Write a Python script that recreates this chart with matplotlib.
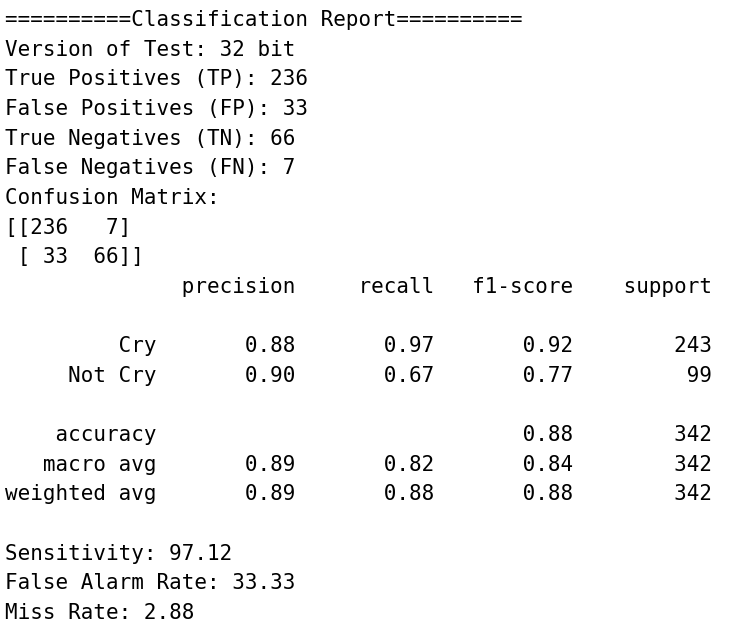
import matplotlib
matplotlib.use("Agg")
import matplotlib.pyplot as plt

version = "32 bit"
tp, fp, tn, fn = 236, 33, 66, 7
class_names = ["Cry", "Not Cry"]
precision = [0.88, 0.90]
recall = [0.97, 0.67]
f1 = [0.92, 0.77]
support = [243, 99]
accuracy = 0.88
total = 342
macro = [0.89, 0.82, 0.84]
weighted = [0.89, 0.88, 0.88]
sensitivity = 97.12
false_alarm = 33.33
miss_rate = 2.88

row_fmt = "{:>12s}  {:9.2f}  {:9.2f}  {:9.2f}  {:9d}"

lines = [
    "==========Classification Report==========",
    "Version of Test: {}".format(version),
    "True Positives (TP): {}".format(tp),
    "False Positives (FP): {}".format(fp),
    "True Negatives (TN): {}".format(tn),
    "False Negatives (FN): {}".format(fn),
    "Confusion Matrix:",
    "[[{:3d} {:3d}]".format(tp, fn),
    " [{:3d} {:3d}]]".format(fp, tn),
    "{:>12s}  {:>9s}  {:>9s}  {:>9s}  {:>9s}".format("", "precision", "recall", "f1-score", "support"),
    "",
]
for i, name in enumerate(class_names):
    lines.append(row_fmt.format(name, precision[i], recall[i], f1[i], support[i]))
lines.append("")
lines.append("{:>12s}  {:>9s}  {:>9s}  {:9.2f}  {:9d}".format("accuracy", "", "", accuracy, total))
lines.append(row_fmt.format("macro avg", *macro, total))
lines.append(row_fmt.format("weighted avg", *weighted, total))
lines.append("")
lines.append("Sensitivity: {:.2f}".format(sensitivity))
lines.append("False Alarm Rate: {:.2f}".format(false_alarm))
lines.append("Miss Rate: {:.2f}".format(miss_rate))

W, H = 741, 625
fig = plt.figure(figsize=(W / 100, H / 100), dpi=100)
fig.patch.set_facecolor("white")

y0 = 20
step = 29.65
for i, line in enumerate(lines):
    fig.text(5 / W, 1 - (y0 + i * step) / H, line, family="DejaVu Sans Mono",
             fontsize=15.05, color="black", ha="left", va="center")

fig.savefig("out.png", dpi=100, facecolor="white")
